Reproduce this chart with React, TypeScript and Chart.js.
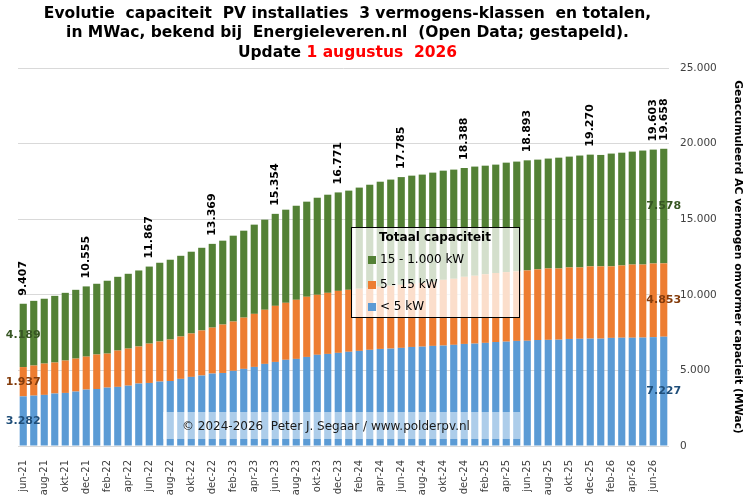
import { useEffect, useRef } from "react"
import { Chart, registerables, type Plugin } from "chart.js"

Chart.register(...registerables)

// months, jun-21 .. jul-26
const MONTHS = [
  "jun-21", "jul-21", "aug-21", "sep-21", "okt-21", "nov-21", "dec-21",
  "jan-22", "feb-22", "mrt-22", "apr-22", "mei-22", "jun-22", "jul-22", "aug-22", "sep-22", "okt-22", "nov-22", "dec-22",
  "jan-23", "feb-23", "mrt-23", "apr-23", "mei-23", "jun-23", "jul-23", "aug-23", "sep-23", "okt-23", "nov-23", "dec-23",
  "jan-24", "feb-24", "mrt-24", "apr-24", "mei-24", "jun-24", "jul-24", "aug-24", "sep-24", "okt-24", "nov-24", "dec-24",
  "jan-25", "feb-25", "mrt-25", "apr-25", "mei-25", "jun-25", "jul-25", "aug-25", "sep-25", "okt-25", "nov-25", "dec-25",
  "jan-26", "feb-26", "mrt-26", "apr-26", "mei-26", "jun-26", "jul-26",
]

// < 5 kW (MWac)
const SMALL = [
  3282, 3330, 3380, 3470, 3510, 3600, 3730, 3770, 3860, 3910, 3990, 4130, 4170, 4260, 4300, 4440,
  4570, 4660, 4790, 4830, 4970, 5100, 5230, 5430, 5560, 5700, 5760, 5890, 6030, 6090, 6160, 6230,
  6290, 6360, 6420, 6440, 6490, 6550, 6570, 6620, 6640, 6690, 6750, 6770, 6820, 6880, 6900, 6950,
  6960, 7010, 7020, 7030, 7080, 7090, 7100, 7100, 7150, 7160, 7160, 7170, 7200, 7227,
]

// 5 - 15 kW
const MID = [
  1937, 1990, 2070, 2050, 2140, 2180, 2180, 2280, 2250, 2400, 2450, 2450, 2600, 2650, 2740, 2800,
  2870, 2980, 3040, 3200, 3260, 3390, 3510, 3580, 3710, 3770, 3910, 3980, 3970, 4040, 4100, 4100,
  4110, 4100, 4110, 4160, 4170, 4180, 4220, 4240, 4350, 4370, 4440, 4490, 4540, 4560, 4600, 4600,
  4650, 4670, 4720, 4710, 4730, 4720, 4780, 4780, 4730, 4780, 4840, 4830, 4870, 4853,
]

// 15 - 1.000 kW
const LARGE = [
  4189, 4280, 4290, 4410, 4480, 4550, 4645, 4680, 4820, 4880, 4950, 5030, 5097, 5210, 5280, 5340,
  5410, 5470, 5539, 5550, 5680, 5750, 5900, 5960, 6084, 6160, 6220, 6290, 6420, 6490, 6511, 6560,
  6690, 6820, 6950, 7020, 7125, 7150, 7160, 7220, 7220, 7220, 7198, 7220, 7180, 7170, 7240, 7260,
  7283, 7260, 7270, 7330, 7330, 7400, 7390, 7370, 7460, 7460, 7470, 7540, 7533, 7578,
]

// totals printed above some bars
const TOTAL_MONTHS = ["jun-21", "dec-21", "jun-22", "dec-22", "jun-23", "dec-23", "jun-24", "dec-24", "jun-25", "dec-25", "jun-26", "jul-26"]
const TOTAL_VALUES = [9407, 10555, 11867, 13369, 15354, 16771, 17785, 18388, 18893, 19270, 19603, 19658]

const FONT = "'DejaVu Sans', Verdana, sans-serif"
const BLUE = "#5b9bd5"
const ORANGE = "#ed7d31"
const GREEN = "#538135"

const fmt = (v: number) => String(Math.round(v)).replace(/\B(?=(\d{3})+(?!\d))/g, ".")

const overlay: Plugin<"bar"> = {
  id: "overlay",
  afterDatasetsDraw(chart) {
    const ctx = chart.ctx
    ctx.save()

    // value labels inside first and last bar
    const segColors = ["#1f4e79", "#843c0c", "#375623"]
    const last = MONTHS.length - 1
    ;[0, last].forEach(i => {
      chart.data.datasets.forEach((ds, d) => {
        const el = chart.getDatasetMeta(d).data[i] as any
        ctx.font = `bold 11px ${FONT}`
        ctx.fillStyle = segColors[d]
        ctx.textAlign = "center"
        ctx.textBaseline = "middle"
        ctx.fillText(fmt(ds.data[i] as number), el.x, (el.y + el.base) / 2)
      })
    })

    // totals, rotated
    const topMeta = chart.getDatasetMeta(2)
    TOTAL_MONTHS.forEach((m, k) => {
      const el = topMeta.data[MONTHS.indexOf(m)] as any
      ctx.save()
      ctx.translate(el.x, el.y - 8)
      ctx.rotate(-Math.PI / 2)
      ctx.font = `bold 11px ${FONT}`
      ctx.fillStyle = "#000"
      ctx.textAlign = "left"
      ctx.textBaseline = "middle"
      ctx.fillText(fmt(TOTAL_VALUES[k]), 0, 0)
      ctx.restore()
    })

    // copyright box
    ctx.fillStyle = "rgba(255,255,255,0.5)"
    ctx.fillRect(163, 412, 357, 27)
    ctx.font = `12px ${FONT}`
    ctx.fillStyle = "#1a1a1a"
    ctx.textAlign = "left"
    ctx.textBaseline = "middle"
    ctx.fillText("© 2024-2026  Peter J. Segaar / www.polderpv.nl", 182, 427)

    // legend
    ctx.fillStyle = "rgba(255,255,255,0.75)"
    ctx.fillRect(351, 227, 169, 91)
    ctx.strokeStyle = "#000"
    ctx.lineWidth = 1
    ctx.strokeRect(351.5, 227.5, 168, 90)
    ctx.font = `bold 12px ${FONT}`
    ctx.fillStyle = "#000"
    ctx.fillText("Totaal capaciteit", 379, 238)
    const items: [string, string, number][] = [
      ["15 - 1.000 kW", GREEN, 260],
      ["5 - 15 kW", ORANGE, 285],
      ["< 5 kW", BLUE, 307],
    ]
    ctx.font = `12px ${FONT}`
    items.forEach(([t, c, y]) => {
      ctx.fillStyle = c
      ctx.fillRect(368, y - 4, 8, 8)
      ctx.fillStyle = "#000"
      ctx.fillText(t, 380, y)
    })
    ctx.restore()
  },
  afterDraw(chart) {
    const ctx = chart.ctx
    const cx = (chart.chartArea.left + chart.chartArea.right) / 2 + 4
    ctx.save()
    ctx.font = `bold 15.5px ${FONT}`
    ctx.textAlign = "center"
    ctx.textBaseline = "alphabetic"
    ctx.fillStyle = "#000"
    ctx.fillText("Evolutie  capaciteit  PV installaties  3 vermogens-klassen  en totalen,", cx, 17.5)
    ctx.fillText("in MWac, bekend bij  Energieleveren.nl  (Open Data; gestapeld).", cx, 37)
    const a = "Update "
    const b = "1 augustus  2026"
    const wa = ctx.measureText(a).width
    const wb = ctx.measureText(b).width
    const x0 = cx - (wa + wb) / 2
    ctx.textAlign = "left"
    ctx.fillText(a, x0, 56.5)
    ctx.fillStyle = "#ff0000"
    ctx.fillText(b, x0 + wa, 56.5)
    ctx.restore()
  },
}

function CapacityChart() {
  const canvasRef = useRef<HTMLCanvasElement>(null)

  useEffect(() => {
    if (!canvasRef.current) return
    Chart.getChart(canvasRef.current)?.destroy()
    Chart.defaults.font.family = FONT

    const bar = { barPercentage: 0.68, categoryPercentage: 1, stack: "s" }
    const chart = new Chart(canvasRef.current, {
      type: "bar",
      data: {
        labels: MONTHS,
        datasets: [
          { label: "< 5 kW", data: SMALL, backgroundColor: BLUE, ...bar },
          { label: "5 - 15 kW", data: MID, backgroundColor: ORANGE, ...bar },
          { label: "15 - 1.000 kW", data: LARGE, backgroundColor: GREEN, ...bar },
        ],
      },
      options: {
        responsive: false,
        animation: false,
        layout: { padding: { top: 68, left: 18, right: 0, bottom: 0 } },
        plugins: {
          legend: { display: false },
          title: { display: false },
          tooltip: { enabled: false },
        },
        scales: {
          x: {
            stacked: true,
            grid: { display: false },
            border: { display: false },
            afterFit: (s: any) => { s.height = 55 },
            ticks: {
              autoSkip: false,
              minRotation: 90,
              maxRotation: 90,
              padding: 6,
              font: { size: 10 },
              color: "#404040",
              callback: (_v: any, i: number) => (i % 2 === 0 ? MONTHS[i] : ""),
            },
          },
          y: {
            stacked: true,
            position: "right",
            min: 0,
            max: 25000,
            afterFit: (s: any) => { s.width = 82 },
            grid: { color: "#d9d9d9", drawTicks: false },
            border: { display: false },
            ticks: {
              stepSize: 5000,
              padding: 11,
              font: { size: 10.5 },
              color: "#404040",
              callback: (v: any) => fmt(Number(v)),
            },
            title: {
              display: true,
              text: "Geaccumuleerd AC vermogen omvormer capacieit (MWac)",
              font: { size: 10.8, weight: "bold" },
              color: "#000",
              padding: { top: 7, bottom: 0 },
            },
          },
        },
      },
      plugins: [overlay],
    })

    return () => { chart.destroy() }
  }, [])

  return (
    <div style={{ position: "fixed", left: 0, top: 0, width: 751, height: 501, background: "#fff" }}>
      <canvas ref={canvasRef} width={751} height={501} />
    </div>
  )
}

export default function App() {
  return <CapacityChart />
}
